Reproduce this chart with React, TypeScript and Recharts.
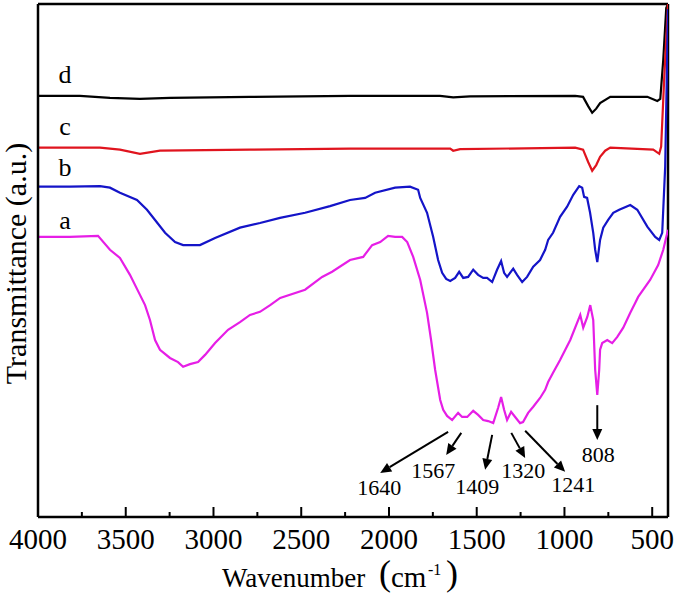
import React from 'react';
import { LineChart, Line, XAxis, YAxis, ReferenceLine, ReferenceDot } from 'recharts';

const FONT = '"Liberation Serif", "Times New Roman", serif';

// wavenumber (cm-1), transmittance (a.u.)
const seriesD: [number, number][] = [
  [4000, 82.1], [3761, 82.1], [3590, 81.7], [3419, 81.5], [3248, 81.7], [2792, 81.9],
  [2222, 82.1], [1709, 82.1], [1634, 81.8], [1538, 82.0], [939, 82.1], [894, 81.9],
  [865, 80.1], [842, 78.8], [819, 79.6], [797, 80.7], [739, 81.9], [528, 81.9],
  [471, 81.1], [454, 81.5], [437, 89.1], [420, 99.2], [410, 100],
];
const seriesC: [number, number][] = [
  [4000, 72.0], [3647, 72.0], [3533, 71.6], [3419, 70.8], [3305, 71.4], [2792, 71.6],
  [2222, 71.8], [1651, 71.8], [1634, 71.4], [1595, 71.7], [939, 72.0], [894, 71.6],
  [865, 69.2], [842, 67.5], [819, 68.6], [797, 70.2], [768, 71.4], [739, 72.0],
  [494, 71.6], [460, 70.8], [449, 72.2], [432, 85.2], [410, 100],
];
const seriesB: [number, number][] = [
  [4000, 64.4], [3818, 64.4], [3647, 64.5], [3590, 64.2], [3533, 63.2], [3436, 61.8],
  [3379, 59.9], [3333, 57.9], [3276, 55.4], [3219, 53.6], [3173, 53.0], [3077, 53.0],
  [2991, 54.4], [2849, 56.4], [2735, 57.3], [2621, 58.3], [2478, 59.3], [2336, 60.6],
  [2222, 61.8], [2136, 62.2], [2079, 63.2], [1965, 64.2], [1880, 64.4], [1834, 63.8],
  [1822, 62.2], [1783, 59.3], [1748, 54.6], [1720, 50.1], [1697, 47.6], [1674, 46.4],
  [1651, 46.0], [1623, 46.6], [1600, 47.8], [1577, 46.6], [1549, 46.8], [1520, 48.2],
  [1492, 47.2], [1463, 46.6], [1441, 46.6], [1412, 45.8], [1384, 48.2], [1361, 49.9],
  [1344, 47.6], [1327, 46.8], [1292, 48.4], [1270, 47.2], [1241, 45.8], [1213, 46.8],
  [1178, 48.8], [1139, 50.1], [1110, 52.1], [1093, 54.0], [1065, 55.4], [1025, 58.5],
  [985, 60.5], [950, 62.8], [916, 64.5], [899, 64.2], [888, 62.4], [871, 62.2],
  [854, 59.3], [836, 55.4], [825, 52.1], [813, 49.7], [797, 54.0], [779, 56.4],
  [751, 57.9], [722, 59.3], [688, 59.9], [625, 60.8], [585, 59.9], [528, 56.6],
  [483, 54.6], [460, 54.0], [443, 55.4], [426, 68.3], [410, 99],
];
const seriesA: [number, number][] = [
  [4000, 54.6], [3818, 54.6], [3658, 54.8], [3590, 52.1], [3533, 50.5], [3476, 47.2],
  [3419, 43.3], [3390, 41.3], [3362, 38.4], [3333, 34.5], [3305, 32.6], [3248, 31.0],
  [3202, 30.2], [3173, 29.3], [3134, 29.8], [3088, 30.2], [3048, 31.6], [2991, 33.9],
  [2917, 36.5], [2849, 38.0], [2792, 39.4], [2735, 40.0], [2677, 41.3], [2620, 42.7],
  [2478, 44.3], [2381, 46.8], [2324, 47.8], [2222, 50.1], [2147, 50.7], [2096, 53.0],
  [2050, 53.6], [2005, 54.8], [1965, 54.6], [1925, 54.6], [1896, 53.6], [1862, 50.7],
  [1822, 46.2], [1783, 39.8], [1760, 34.5], [1737, 28.7], [1708, 22.8], [1691, 20.9],
  [1669, 19.7], [1640, 18.9], [1606, 20.3], [1583, 19.5], [1554, 19.5], [1520, 20.7],
  [1492, 19.9], [1463, 18.9], [1435, 18.7], [1406, 18.3], [1378, 21.3], [1361, 23.4],
  [1344, 20.9], [1327, 18.9], [1304, 20.5], [1281, 19.5], [1253, 18.3], [1236, 18.5],
  [1207, 20.3], [1178, 21.5], [1139, 23.2], [1110, 24.8], [1093, 26.3], [1065, 28.1],
  [1025, 30.6], [967, 34.5], [910, 39.4], [893, 36.9], [870, 39.0], [853, 41.3],
  [836, 38.4], [825, 28.7], [813, 23.8], [802, 28.7], [797, 32.6], [785, 33.9],
  [756, 34.5], [728, 33.9], [699, 35.1], [665, 36.9], [625, 39.8], [597, 41.7],
  [580, 42.9], [512, 46.2], [466, 49.1], [437, 52.1], [410, 56.0],
];

const xTicks = [4000, 3750, 3500, 3250, 3000, 2750, 2500, 2250, 2000, 1750, 1500, 1250, 1000, 750, 500];

const curveLabels = [
  { text: 'd', wn: 3846, v: 86.3 },
  { text: 'c', wn: 3846, v: 76.2 },
  { text: 'b', wn: 3846, v: 68.2 },
  { text: 'a', wn: 3846, v: 57.7 },
];

// peak annotations: arrow from -> to, label position
const peakNotes = [
  { text: '1640', from: [1663, 16.6], to: [2050, 8.6], at: [2056, 5.7] },
  { text: '1567', from: [1588, 16.4], to: [1674, 12.1], at: [1748, 9.0] },
  { text: '1409', from: [1412, 16.0], to: [1452, 9.2], at: [1497, 6.0] },
  { text: '1320', from: [1303, 16.4], to: [1224, 11.5], at: [1235, 9.0] },
  { text: '1241', from: [1224, 16.8], to: [996, 8.8], at: [950, 6.4] },
  { text: '808', from: [813, 21.8], to: [813, 15.0], at: [808, 12.1] },
];

const toPts = (s: [number, number][]) => s.map(([wn, v]) => ({ wn, v }));

const Tick = (props: any) => {
  const { x, y, payload } = props;
  const major = payload.value % 500 === 0;
  return (
    <g>
      <line x1={x} x2={x} y1={y} y2={y - (major ? 10 : 5)} stroke="#000" strokeWidth={2} />
      {major && (
        <text x={x} y={y + 32} textAnchor="middle" fontSize={29} fontFamily={FONT} fill="#000">
          {payload.value}
        </text>
      )}
    </g>
  );
};

const arrowShape = (p: any) => {
  const { x1, y1, x2, y2 } = p;
  if ([x1, y1, x2, y2].some((n) => typeof n !== 'number' || isNaN(n))) return <g />;
  const ang = Math.atan2(y2 - y1, x2 - x1);
  const L = 11;
  const W = 5;
  const bx = x2 - L * Math.cos(ang);
  const by = y2 - L * Math.sin(ang);
  const px = -Math.sin(ang) * W;
  const py = Math.cos(ang) * W;
  return (
    <g>
      <line x1={x1} y1={y1} x2={bx} y2={by} stroke="#000" strokeWidth={2} />
      <polygon points={`${x2},${y2} ${bx + px},${by + py} ${bx - px},${by - py}`} fill="#000" />
    </g>
  );
};

const textShape = (text: string, size: number) => (p: any) => (
  <text x={p.cx} y={p.cy} textAnchor="middle" dominantBaseline="central" fontSize={size} fontFamily={FONT} fill="#000">
    {text}
  </text>
);

export default function App() {
  return (
    <div style={{ position: 'absolute', left: 0, top: 0, background: '#fff' }}>
      <LineChart width={675} height={601} margin={{ top: 4, right: 7, left: 0, bottom: 0 }}>
        <XAxis
          type="number"
          dataKey="wn"
          domain={[410, 4000]}
          reversed
          allowDataOverflow
          ticks={xTicks}
          interval={0}
          tickSize={0}
          tickMargin={0}
          tick={<Tick />}
          height={84}
          axisLine={{ stroke: '#000', strokeWidth: 2.5 }}
          label={{
            content: () => (
              <text fontFamily={FONT} fill="#000">
                <tspan x={222} y={587} fontSize={27}>Wavenumber</tspan>
                <tspan x={379} y={585} fontSize={36}>(</tspan>
                <tspan x={391} y={587} fontSize={29}>cm</tspan>
                <tspan x={428} y={575} fontSize={16}>-1</tspan>
                <tspan x={446} y={585} fontSize={36}>)</tspan>
              </text>
            ),
          }}
        />
        <YAxis
          type="number"
          domain={[0, 100]}
          allowDataOverflow
          tick={false}
          tickLine={false}
          width={38}
          axisLine={{ stroke: '#000', strokeWidth: 2.5 }}
          label={{
            content: (p: any) => {
              const vb = p.viewBox || { x: 0, y: 4, width: 38, height: 513 };
              const cy = vb.y + vb.height / 2 + 3;
              return (
                <text
                  x={15}
                  y={cy}
                  transform={`rotate(-90, 15, ${cy})`}
                  textAnchor="middle"
                  dominantBaseline="central"
                  fontSize={30}
                  fontFamily={FONT}
                  fill="#000"
                >
                  Transmittance (a.u.)
                </text>
              );
            },
          }}
        />
        <ReferenceLine y={100} stroke="#000" strokeWidth={2.5} ifOverflow="extendDomain" />
        <ReferenceLine x={410} stroke="#000" strokeWidth={2.5} ifOverflow="extendDomain" />
        <Line data={toPts(seriesD)} dataKey="v" stroke="#000000" strokeWidth={2.2} dot={false} isAnimationActive={false} type="linear" />
        <Line data={toPts(seriesC)} dataKey="v" stroke="#e0141e" strokeWidth={2.2} dot={false} isAnimationActive={false} type="linear" />
        <Line data={toPts(seriesB)} dataKey="v" stroke="#1414c8" strokeWidth={2.2} dot={false} isAnimationActive={false} type="linear" />
        <Line data={toPts(seriesA)} dataKey="v" stroke="#e61ee6" strokeWidth={2.2} dot={false} isAnimationActive={false} type="linear" />
        {curveLabels.map((c) => (
          <ReferenceDot key={c.text} x={c.wn} y={c.v} r={1} shape={textShape(c.text, 26)} />
        ))}
        {peakNotes.map((n) => (
          <ReferenceLine
            key={'a' + n.text}
            segment={[{ x: n.from[0], y: n.from[1] }, { x: n.to[0], y: n.to[1] }]}
            shape={arrowShape}
          />
        ))}
        {peakNotes.map((n) => (
          <ReferenceDot key={'t' + n.text} x={n.at[0]} y={n.at[1]} r={1} shape={textShape(n.text, 22)} />
        ))}
      </LineChart>
    </div>
  );
}
